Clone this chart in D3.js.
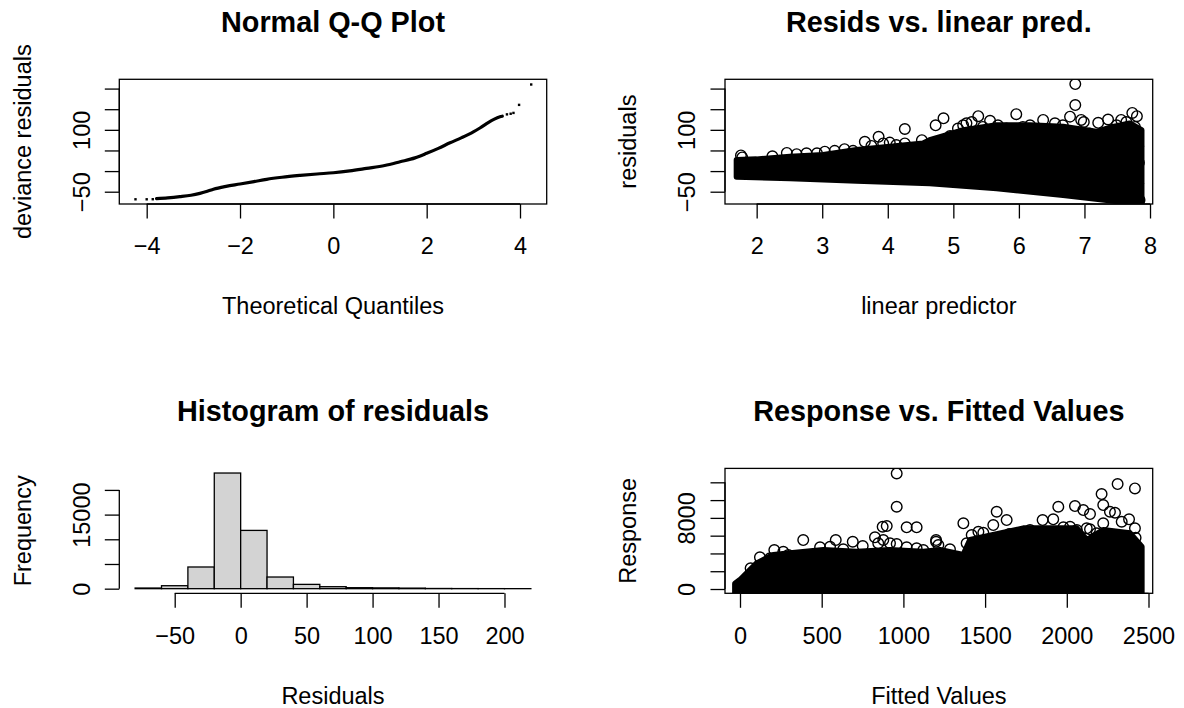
<!DOCTYPE html>
<html>
<head>
<meta charset="utf-8">
<script src="https://cdn.jsdelivr.net/npm/d3@7"></script>
<style>
  html, body { margin: 0; padding: 0; background: #fff; }
  svg { display: block; }
</style>
</head>
<body>
<script>
// ---------------- DATA ----------------
// Panel 1: Normal Q-Q plot (theoretical quantile, deviance residual)
const qqCurve = [[-3.79,-67],[-3.55,-65],[-3.29,-62],[-3.05,-58.5],[-2.86,-54],[-2.7,-49],[-2.57,-44],[-2.3,-37],[-2.0,-31.4],[-1.7,-25.5],[-1.43,-20],[-1.1,-15],[-0.71,-10.5],[-0.35,-7],[0,-4],[0.35,0.5],[0.71,6.6],[1.1,13.5],[1.43,22.6],[1.75,32],[2.0,43],[2.25,55],[2.5,68.6],[2.75,81],[3.0,95],[3.15,105],[3.29,115.5],[3.45,126],[3.57,131.5],[3.62,133]];
const qqDots = [[-4.24,-68.4],[-4.0,-68.4],[-3.87,-68.2],[3.72,137.5],[3.8,139],[3.86,141],[3.98,160.5],[4.24,209.9]];
const qqXTicks = [-4,-2,0,2,4];
const residTicks = [-50,0,50,100,150,200];
const residTickLabels = [-50,100];

// Panel 2: residuals vs linear predictor
const lpUpperEdge = [[1.695,26.7],[2.0,28.4],[2.508,34.7],[3.015,38.8],[3.524,50.9],[4.032,58.9],[4.54,67.1],[4.64,75.1],[4.9,87.2],[5.15,99.3],[5.66,111.4],[6.166,111.4],[6.674,107.3],[7.18,95.2],[7.436,107.3],[7.69,115.5],[7.87,99.3]];
const lpLowerEdge = [[1.695,-13.7],[2.508,-17.6],[3.524,-23.4],[4.64,-29.7],[5.66,-41.8],[6.674,-58],[7.69,-76.6],[7.87,-79.5]];
const lpOutliers = [[1.76,38],[1.78,33],[2.24,36],[2.46,44],[2.61,41],[2.76,43],[2.92,43],[3.04,47],[3.19,49],[3.34,53],[3.47,49],[3.65,71],[3.75,61],[3.86,83],[3.93,67],[4.03,69],[4.13,63],[4.26,102],[4.26,67],[4.52,75],[4.59,59],[4.73,111],[4.77,71],[4.85,128],[4.95,85],[5.07,103],[5.15,111],[5.2,116],[5.28,119],[5.38,133],[5.45,107],[5.56,122],[5.68,111],[5.81,103],[5.96,138],[6.06,107],[6.17,111],[6.37,124],[6.55,116],[6.67,111],[6.78,132],[6.86,211],[6.86,160],[6.95,124],[6.99,119],[7.08,91],[7.21,117],[7.36,125],[7.49,111],[7.56,124],[7.64,119],[7.73,141],[7.77,107],[7.8,133],[7.82,60],[7.83,20],[7.82,-30],[7.84,-70]];
const lpXTicks = [2,3,4,5,6,7,8];

// Panel 3: histogram of residuals
const histBreaks = [-80,-60,-40,-20,0,20,40,60,80,100,120,140,160,180,200,220];
const histCounts = [130,600,4390,23420,11800,2360,870,400,200,160,110,40,20,10,5];
const histXTicks = [-50,0,50,100,150,200];
const histYTicks = [0,5000,10000,15000,20000];
const histYTickLabels = [0,15000];

// Panel 4: response vs fitted values
const fvUpperEdge = [[-30,-480],[-30,600],[0,1012],[41,1765],[102,2889],[204,3822],[306,4013],[510,4384],[714,4193],[918,4384],[1122,4193],[1224,4384],[1367,3822],[1408,5508],[1734,6823],[2061,6823],[2122,5508],[2223,6632],[2387,6261],[2458,4754],[2458,-480]];
const fvOutliers = [[959,13005],[959,9251],[873,7003],[898,7081],[1020,6935],[1081,6935],[387,5508],[586,5508],[690,5317],[826,5811],[210,4384],[122,3563],[65,2327],[751,4833],[1200,5508],[1367,7385],[1571,8689],[1632,7756],[1550,7194],[1948,9251],[2050,9329],[2101,8880],[2142,8430],[2213,10678],[2223,9442],[2311,11802],[2417,11318],[2264,8689],[2381,7834],[2417,6822],[2421,5766],[1852,7756],[1917,7834],[1200,5317],[2142,6710],[1285,4462],[1489,6328],[1648,6182],
  [265,4193],[296,3822],[184,3451],[490,4687],[551,4754],[632,4462],[846,5137],[877,5508],[918,5137],[959,5058],[1020,4687],[1081,4575],[1122,4384],[1214,4946],[1387,5137],[1418,6070],[1459,6440],[1693,5699],[1775,6632],[1979,6935],[2020,7003],[2061,6632],[2122,6823],[2183,6261],[2223,7385],[2295,8576],[2336,7564],[2428,4754],[2428,1383],[2428,75],[2420,3000]];
const fvXTicks = [0,500,1000,1500,2000,2500];
const fvYTicks = [0,2000,4000,6000,8000,10000,12000];
const fvYTickLabels = [0,8000];

// axis limits (R style, data range + 4%)
const qqXDomain = [-4.587, 4.572];
const residDomain = [-79.8, 222.5];
const lpXDomain = [1.517, 8.041];
const histXDomain = [-92, 232];
const histYDomain = [-937, 24357];
const fvXDomain = [-91.8, 2525.7];
const fvYDomain = [-483, 13566];

// ---------------- LAYOUT / STYLE ----------------
const FONT = "'Liberation Sans', Arial, Helvetica, sans-serif";
const AX_FS = 23.5, TITLE_FS = 28.8, SW = 1.3, TICK = 14.5, PT_R = 5.3, PT_SW = 1.4;
const COLS = [[119.3, 546.7], [725, 1152.7]];
const ROWS = [[79.3, 204], [468.4, 593.3]];

const svg = d3.select("body").append("svg")
  .attr("width", 1184).attr("height", 708)
  .style("background", "#fff");

const minus = v => String(v).replace("-", "\u2212");

function makePanel(id, col, row, xDomain, yDomain, opts) {
  const [x0, x1] = COLS[col], [y0, y1] = ROWS[row];
  const x = d3.scaleLinear().domain(xDomain).range([x0, x1]);
  const y = d3.scaleLinear().domain(yDomain).range([y1, y0]);
  const g = svg.append("g");
  svg.append("clipPath").attr("id", "clip-" + id)
    .append("rect").attr("x", x0).attr("y", y0).attr("width", x1 - x0).attr("height", y1 - y0);
  const plot = g.append("g").attr("clip-path", opts.clip ? `url(#clip-${id})` : null);

  // bottom axis
  const xTicks = opts.xTicks, xShown = opts.xShown || xTicks;
  const bx = g.append("g").attr("transform", `translate(0,${y1})`)
    .call(d3.axisBottom(x).tickValues(xTicks).tickSizeInner(TICK).tickSizeOuter(0)
      .tickFormat(d => xShown.includes(d) ? minus(d) : ""));
  bx.select(".domain").attr("d", `M${x(xTicks[0])},0H${x(xTicks[xTicks.length - 1])}`);
  // left axis
  const yTicks = opts.yTicks, yShown = opts.yShown || yTicks;
  const ly = g.append("g").attr("transform", `translate(${x0},0)`)
    .call(d3.axisLeft(y).tickValues(yTicks).tickSizeInner(TICK).tickSizeOuter(0)
      .tickFormat(d => yShown.includes(d) ? minus(d) : ""));
  ly.select(".domain").attr("d", `M0,${y(yTicks[0])}V${y(yTicks[yTicks.length - 1])}`);

  [bx, ly].forEach(a => {
    a.attr("font-family", FONT).attr("font-size", AX_FS);
    a.selectAll("path,line").attr("stroke", "#000").attr("stroke-width", SW);
    a.selectAll("text").attr("fill", "#000");
  });
  bx.selectAll("text").attr("y", 42 + 8.4).attr("dy", null);
  ly.selectAll("text").attr("x", null).attr("dy", "0.36em")
    .attr("text-anchor", "middle")
    .attr("transform", "translate(-38,0) rotate(-90)");

  if (opts.box) {
    g.append("rect").attr("x", x0).attr("y", y0).attr("width", x1 - x0).attr("height", y1 - y0)
      .attr("fill", "none").attr("stroke", "#000").attr("stroke-width", SW);
  }
  // titles
  g.append("text").attr("x", (x0 + x1) / 2).attr("y", y0 - 58).attr("dy", "0.36em")
    .attr("text-anchor", "middle").attr("font-family", FONT).attr("font-weight", "bold")
    .attr("font-size", TITLE_FS).text(opts.title);
  g.append("text").attr("x", (x0 + x1) / 2).attr("y", y1 + 102).attr("dy", "0.36em")
    .attr("text-anchor", "middle").attr("font-family", FONT).attr("font-size", AX_FS)
    .text(opts.xlab);
  g.append("text").attr("transform", `translate(${x0 - 97},${(y0 + y1) / 2}) rotate(-90)`)
    .attr("dy", "0.36em").attr("text-anchor", "middle").attr("font-family", FONT)
    .attr("font-size", AX_FS).text(opts.ylab);
  return { x, y, plot };
}

// ---- Panel 1: Normal Q-Q ----
{
  const p = makePanel("qq", 0, 0, qqXDomain, residDomain, {
    box: true, clip: true, xTicks: qqXTicks, yTicks: residTicks, yShown: residTickLabels,
    title: "Normal Q-Q Plot", xlab: "Theoretical Quantiles", ylab: "deviance residuals"
  });
  const line = d3.line().x(d => p.x(d[0])).y(d => p.y(d[1])).curve(d3.curveMonotoneX);
  p.plot.append("path").attr("d", line(qqCurve)).attr("fill", "none")
    .attr("stroke", "#000").attr("stroke-width", 3.2).attr("stroke-linecap", "round");
  p.plot.selectAll("rect.dot").data(qqDots).join("rect").attr("class", "dot")
    .attr("x", d => p.x(d[0]) - 1.2).attr("y", d => p.y(d[1]) - 1.2)
    .attr("width", 2.4).attr("height", 2.4).attr("fill", "#000");
}

// ---- Panel 2: Resids vs linear pred ----
{
  const p = makePanel("lp", 1, 0, lpXDomain, residDomain, {
    box: true, clip: true, xTicks: lpXTicks, yTicks: residTicks, yShown: residTickLabels,
    title: "Resids vs. linear pred.", xlab: "linear predictor", ylab: "residuals"
  });
  const poly = lpUpperEdge.concat(lpLowerEdge.slice().reverse());
  const line = d3.line().x(d => p.x(d[0])).y(d => p.y(d[1]));
  p.plot.append("path").attr("d", line(poly) + "Z").attr("fill", "#000")
    .attr("stroke", "#000").attr("stroke-width", 6).attr("stroke-linejoin", "round");
  p.plot.selectAll("circle").data(lpOutliers).join("circle")
    .attr("cx", d => p.x(d[0])).attr("cy", d => p.y(d[1])).attr("r", PT_R)
    .attr("fill", "none").attr("stroke", "#000").attr("stroke-width", PT_SW);
}

// ---- Panel 3: Histogram ----
{
  const p = makePanel("hist", 0, 1, histXDomain, histYDomain, {
    box: false, clip: false, xTicks: histXTicks, yTicks: histYTicks, yShown: histYTickLabels,
    title: "Histogram of residuals", xlab: "Residuals", ylab: "Frequency"
  });
  const bins = histCounts.map((c, i) => ({ a: histBreaks[i], b: histBreaks[i + 1], c }));
  p.plot.selectAll("rect.bar").data(bins).join("rect").attr("class", "bar")
    .attr("x", d => p.x(d.a)).attr("width", d => p.x(d.b) - p.x(d.a))
    .attr("y", d => p.y(d.c)).attr("height", d => p.y(0) - p.y(d.c))
    .attr("fill", "#D3D3D3").attr("stroke", "#000").attr("stroke-width", SW);
}

// ---- Panel 4: Response vs fitted ----
{
  const p = makePanel("fv", 1, 1, fvXDomain, fvYDomain, {
    box: true, clip: true, xTicks: fvXTicks, yTicks: fvYTicks, yShown: fvYTickLabels,
    title: "Response vs. Fitted Values", xlab: "Fitted Values", ylab: "Response"
  });
  const line = d3.line().x(d => p.x(d[0])).y(d => p.y(d[1]));
  p.plot.append("path").attr("d", line(fvUpperEdge) + "Z").attr("fill", "#000")
    .attr("stroke", "#000").attr("stroke-width", 6).attr("stroke-linejoin", "round");
  p.plot.selectAll("circle").data(fvOutliers).join("circle")
    .attr("cx", d => p.x(d[0])).attr("cy", d => p.y(d[1])).attr("r", PT_R)
    .attr("fill", "none").attr("stroke", "#000").attr("stroke-width", PT_SW);
}
</script>
</body>
</html>
